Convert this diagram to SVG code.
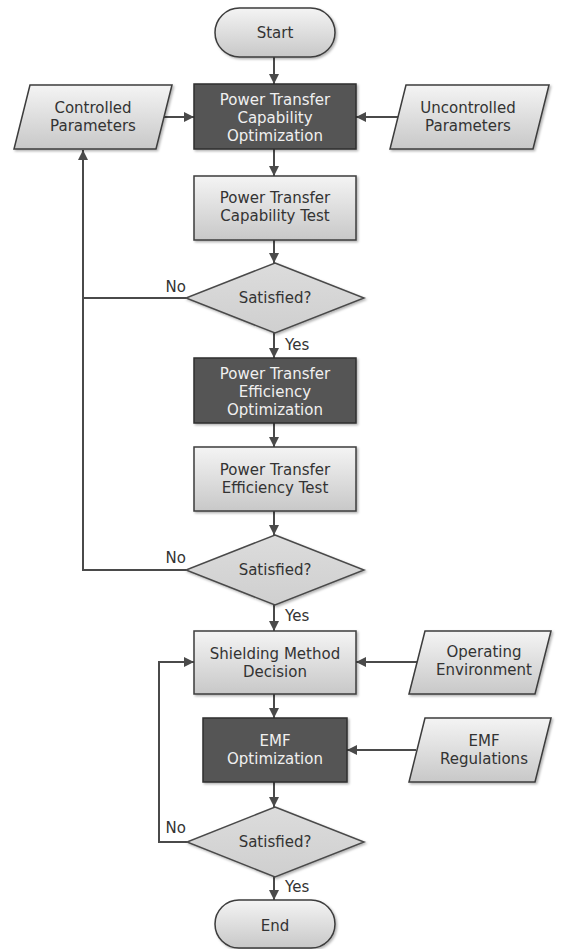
<svg xmlns="http://www.w3.org/2000/svg" width="564" height="949" viewBox="0 0 564 949">
<defs>
<linearGradient id="lg" x1="0" y1="0" x2="0" y2="1">
<stop offset="0" stop-color="#f4f4f4"/>
<stop offset="1" stop-color="#c8c8c8"/>
</linearGradient>
<linearGradient id="dg" x1="0" y1="0" x2="0" y2="1">
<stop offset="0" stop-color="#dcdcdc"/>
<stop offset="1" stop-color="#cfcfcf"/>
</linearGradient>
<filter id="sh" x="-10%" y="-10%" width="130%" height="130%">
<feDropShadow dx="1.5" dy="1.5" stdDeviation="1.2" flood-color="#000" flood-opacity="0.3"/>
</filter>
<marker id="ah" viewBox="0 0 10 10" refX="10" refY="5" markerWidth="10" markerHeight="10" markerUnits="userSpaceOnUse" orient="auto">
<path d="M0,0 L10,5 L0,10 z" fill="#4a4a4a"/>
</marker>
<style>
.light{fill:url(#lg);stroke:#3c3c3c;stroke-width:1.5;filter:url(#sh)}
.dark{fill:#555555;stroke:#2e2e2e;stroke-width:1.5;filter:url(#sh)}
.dia{fill:url(#dg);stroke:#4a4a4a;stroke-width:1.5;filter:url(#sh)}
.t{font-family:"DejaVu Sans",Verdana,sans-serif;font-size:15px;fill:#333333;text-anchor:middle}
.tw{font-family:"DejaVu Sans",Verdana,sans-serif;font-size:15px;fill:#f0f0f0;text-anchor:middle}
.lb{font-family:"DejaVu Sans",Verdana,sans-serif;font-size:15px;fill:#333333}
.c{fill:none;stroke:#4a4a4a;stroke-width:2}
</style>
</defs>
<g id="connectors">
<line class="c" x1="274" y1="57" x2="274" y2="84" marker-end="url(#ah)"/>
<line class="c" x1="274" y1="149" x2="274" y2="176" marker-end="url(#ah)"/>
<line class="c" x1="274" y1="240" x2="274" y2="263" marker-end="url(#ah)"/>
<line class="c" x1="274" y1="333" x2="274" y2="358" marker-end="url(#ah)"/>
<line class="c" x1="274" y1="423" x2="274" y2="447" marker-end="url(#ah)"/>
<line class="c" x1="274" y1="511" x2="274" y2="535" marker-end="url(#ah)"/>
<line class="c" x1="274" y1="605" x2="274" y2="631" marker-end="url(#ah)"/>
<line class="c" x1="274" y1="694" x2="274" y2="718" marker-end="url(#ah)"/>
<line class="c" x1="274" y1="782" x2="274" y2="807" marker-end="url(#ah)"/>
<line class="c" x1="274" y1="877" x2="274" y2="900" marker-end="url(#ah)"/>
<line class="c" x1="164" y1="117" x2="194" y2="117" marker-end="url(#ah)"/>
<line class="c" x1="398" y1="117" x2="356" y2="117" marker-end="url(#ah)"/>
<line class="c" x1="417" y1="662" x2="356" y2="662" marker-end="url(#ah)"/>
<line class="c" x1="416" y1="750" x2="347" y2="750" marker-end="url(#ah)"/>
<polyline class="c" points="186,298 83,298 83,150" marker-end="url(#ah)"/>
<polyline class="c" points="186,570 83,570 83,298"/>
<polyline class="c" points="187,842 159,842 159,662 194,662" marker-end="url(#ah)"/>
<text class="lb" x="186" y="292" text-anchor="end">No</text>
<text class="lb" x="186" y="563" text-anchor="end">No</text>
<text class="lb" x="186" y="833" text-anchor="end">No</text>
<text class="lb" x="285" y="350">Yes</text>
<text class="lb" x="285" y="621">Yes</text>
<text class="lb" x="285" y="892">Yes</text>
</g>
<g id="start">
<rect class="light" x="215" y="8" width="120" height="49" rx="24.5"/>
<text class="t" x="275" y="38">Start</text>
</g>
<g id="ptc-opt">
<rect class="dark" x="194" y="84" width="162" height="65"/>
<text class="tw" x="275" y="105">Power Transfer</text>
<text class="tw" x="275" y="123">Capability</text>
<text class="tw" x="275" y="141">Optimization</text>
</g>
<g id="controlled">
<polygon class="light" points="30,85 172,85 156,149 14,149"/>
<text class="t" x="93" y="113">Controlled</text>
<text class="t" x="93" y="131">Parameters</text>
</g>
<g id="uncontrolled">
<polygon class="light" points="406,85 549,85 533,149 390,149"/>
<text class="t" x="468" y="113">Uncontrolled</text>
<text class="t" x="468" y="131">Parameters</text>
</g>
<g id="ptc-test">
<rect class="light" x="194" y="176" width="162" height="64"/>
<text class="t" x="275" y="203">Power Transfer</text>
<text class="t" x="275" y="221">Capability Test</text>
</g>
<g id="sat1">
<polygon class="dia" points="275,263 364,298 275,333 186,298"/>
<text class="t" x="275" y="303">Satisfied?</text>
</g>
<g id="pte-opt">
<rect class="dark" x="194" y="358" width="162" height="65"/>
<text class="tw" x="275" y="379">Power Transfer</text>
<text class="tw" x="275" y="397">Efficiency</text>
<text class="tw" x="275" y="415">Optimization</text>
</g>
<g id="pte-test">
<rect class="light" x="194" y="447" width="162" height="64"/>
<text class="t" x="275" y="475">Power Transfer</text>
<text class="t" x="275" y="493">Efficiency Test</text>
</g>
<g id="sat2">
<polygon class="dia" points="275,535 364,570 275,605 186,570"/>
<text class="t" x="275" y="575">Satisfied?</text>
</g>
<g id="shielding">
<rect class="light" x="194" y="631" width="162" height="63"/>
<text class="t" x="275" y="659">Shielding Method</text>
<text class="t" x="275" y="677">Decision</text>
</g>
<g id="operating">
<polygon class="light" points="425,631 551,631 535,694 409,694"/>
<text class="t" x="484" y="657">Operating</text>
<text class="t" x="484" y="675">Environment</text>
</g>
<g id="emf-opt">
<rect class="dark" x="203" y="718" width="144" height="64"/>
<text class="tw" x="275" y="746">EMF</text>
<text class="tw" x="275" y="764">Optimization</text>
</g>
<g id="emf-reg">
<polygon class="light" points="425,718 551,718 535,782 409,782"/>
<text class="t" x="484" y="746">EMF</text>
<text class="t" x="484" y="764">Regulations</text>
</g>
<g id="sat3">
<polygon class="dia" points="275,807 364,842 275,877 187,842"/>
<text class="t" x="275" y="847">Satisfied?</text>
</g>
<g id="end">
<rect class="light" x="215" y="900" width="120" height="48" rx="24"/>
<text class="t" x="275" y="931">End</text>
</g>
</svg>
